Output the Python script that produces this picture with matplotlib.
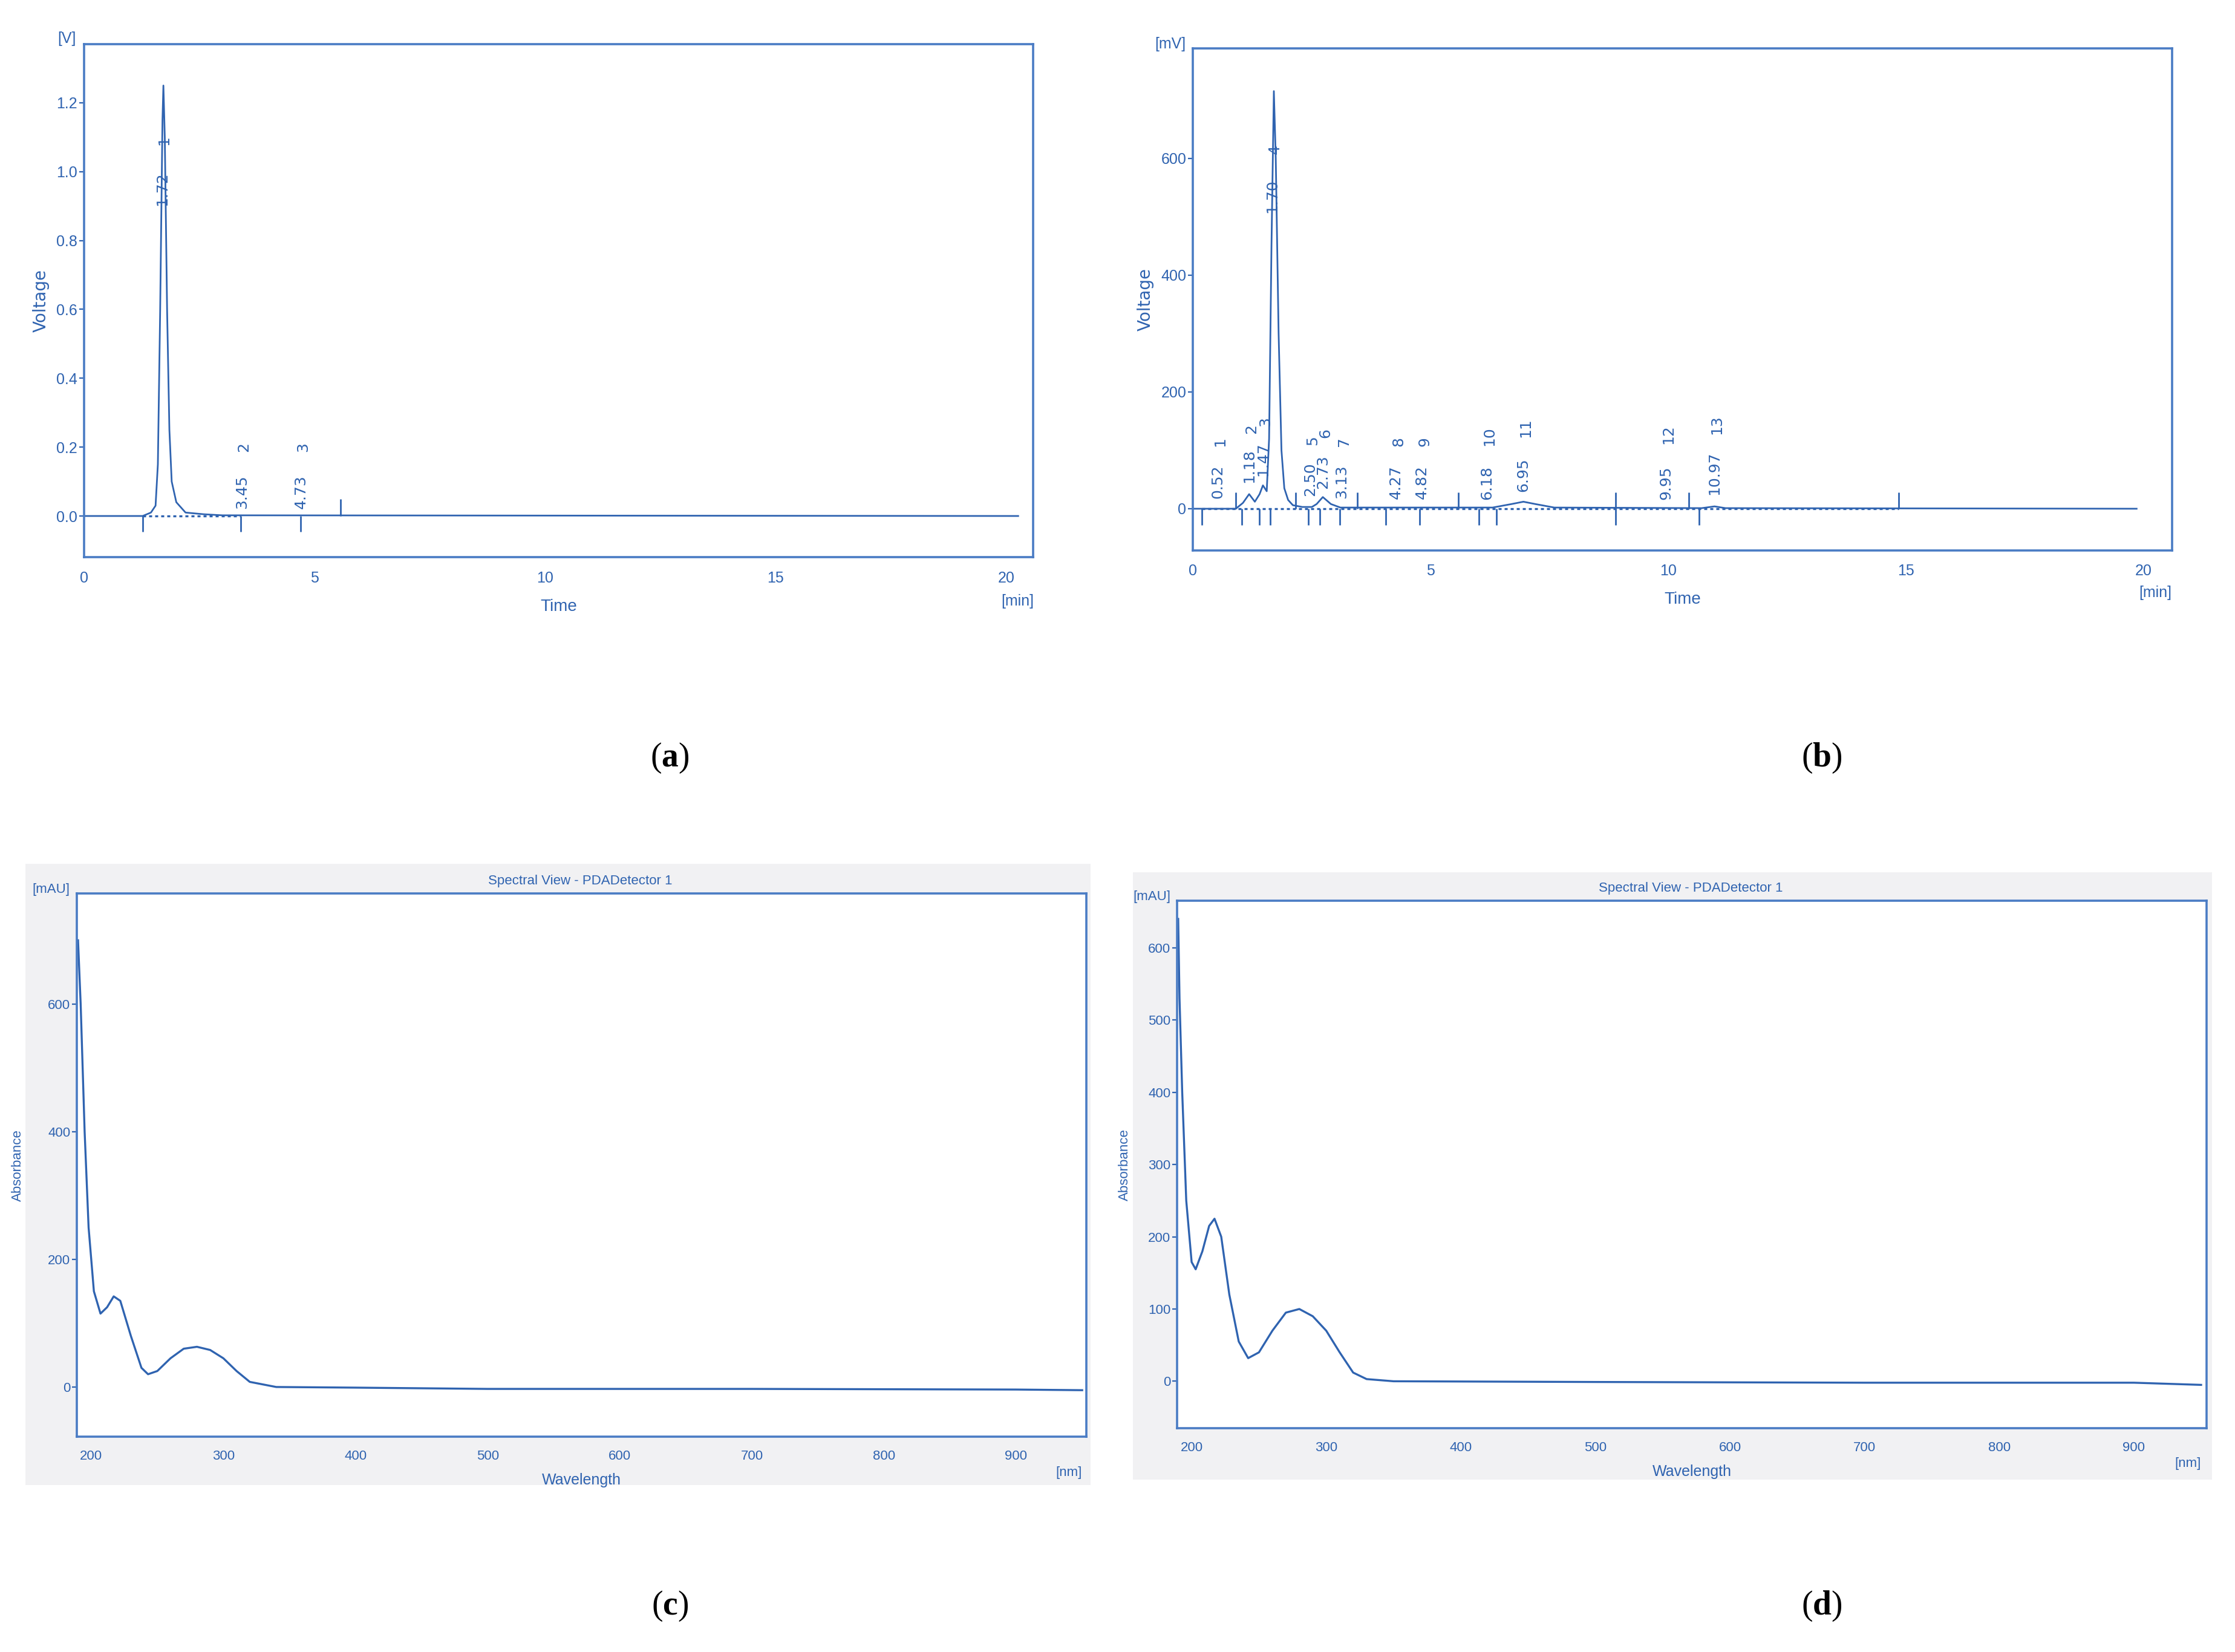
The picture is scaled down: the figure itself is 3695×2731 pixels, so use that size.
import matplotlib
matplotlib.use("Agg")
import matplotlib.pyplot as plt
from matplotlib.patches import Rectangle

plt.rcParams['font.family'] = ['Liberation Sans Narrow', 'Liberation Sans', 'DejaVu Sans']
plt.rcParams['mathtext.fontset'] = 'custom'
plt.rcParams['mathtext.bf'] = 'Liberation Serif:bold'
plt.rcParams['mathtext.rm'] = 'Liberation Serif'

BLUE = '#2f63b0'
LBLUE = '#4a7cc4'

# ---------------- data ----------------
# (a) chromatogram
a_time = [0.0, 1.27, 1.45, 1.55, 1.60, 1.65, 1.70, 1.72, 1.75, 1.80, 1.85, 1.90, 2.00, 2.20, 2.60, 3.00, 20.26]
a_volt = [0.0, 0.0, 0.01, 0.03, 0.15, 0.60, 1.15, 1.25, 1.10, 0.60, 0.25, 0.10, 0.04, 0.01, 0.005, 0.002, 0.0]
a_rt = [1.72, 3.45, 4.73]
a_num = ['1', '2', '3']
a_rt_y = [0.95, 0.07, 0.07]
a_num_y = [1.09, 0.20, 0.20]
a_down = [1.27, 3.40, 4.70]
a_up = [5.56]
a_dot = [1.27, 3.40]

# (b) chromatogram
b_time = [0.0, 0.18, 0.9, 1.05, 1.18, 1.30, 1.40, 1.47, 1.55, 1.60, 1.65, 1.70, 1.74, 1.80, 1.86, 1.92, 2.0, 2.1, 2.3, 2.5,
          2.6, 2.73, 2.9, 3.1, 6.3, 6.7, 6.95, 7.2, 7.6, 10.7, 10.97, 11.2, 19.85]
b_volt = [0.0, 0.0, 0.0, 10, 25, 12, 25, 40, 30, 120, 450, 715, 600, 300, 100, 35, 15, 6, 3, 3,
          8, 20, 8, 2, 2, 8, 12, 8, 2, 1, 4, 1, 0.0]
b_rt = ['0.52', '1.18', '1.47', '2.50', '2.73', '3.13', '4.27', '4.82', '6.18', '6.95', '9.95', '10.97']
b_num = ['1', '2', '3', '5', '6', '7', '8', '9', '10', '11', '12', '13']
b_rt_x = [0.52, 1.18, 1.47, 2.46, 2.73, 3.13, 4.27, 4.82, 6.18, 6.95, 9.95, 10.97]
b_rt_y = [46, 73, 85, 51, 63, 46, 46, 46, 44, 58, 44, 61]
b_num_y = [115, 137, 149, 117, 129, 115, 115, 115, 124, 139, 127, 144]
b_peak4 = ('1.70', '4')
b_down = [0.18, 1.03, 1.39, 1.62, 2.43, 2.67, 3.09, 4.05, 4.77, 6.02, 6.38, 8.89, 10.65]
b_up = [0.90, 2.16, 3.46, 5.58, 8.89, 10.43, 14.84]
b_dot = [0.18, 14.84]

# (c) spectrum
c_wl = [190, 191, 192, 195, 198, 202, 207, 212, 217, 222, 230, 238, 243, 250, 260, 270, 280, 290, 300, 310, 320, 340,
        400, 500, 700, 900, 950]
c_abs = [700, 650, 600, 400, 250, 150, 115, 125, 142, 135, 80, 30, 20, 25, 45, 60, 63, 58, 45, 25, 8, 0,
         -1, -3, -3, -4, -5]
# (d) spectrum
d_wl = [190, 191, 193, 196, 200, 203, 208, 213, 217, 222, 228, 235, 242, 250, 260, 270, 280, 290, 300, 310, 320, 330,
        350, 500, 700, 900, 950]
d_abs = [640, 530, 400, 250, 165, 155, 180, 215, 225, 200, 120, 55, 32, 40, 70, 95, 100, 90, 70, 40, 12, 3,
         0, -1, -2, -2, -5]

# ---------------- figure ----------------
W, H = 1568.0, 1159.0
fig = plt.figure(figsize=(18.475, 13.655), dpi=200)


def add_ax(x0, y0, x1, y1):
    return fig.add_axes([x0 / W, 1 - y1 / H, (x1 - x0) / W, (y1 - y0) / H], zorder=2)


def style(ax):
    ax.set_facecolor('white')
    for s in ax.spines.values():
        s.set_color(LBLUE)
        s.set_linewidth(1.3)
    ax.tick_params(axis='both', colors=BLUE, labelcolor=BLUE, labelsize=9, width=0.8)
    ax.tick_params(axis='x', length=0, pad=8)
    ax.tick_params(axis='y', length=3, pad=1)


TS = 9

# grey backgrounds for spectra panels
for (x0, y0, x1, y1) in [(18, 606, 765, 1042), (795, 612, 1552, 1038)]:
    fig.patches.append(Rectangle((x0 / W, 1 - y1 / H), (x1 - x0) / W, (y1 - y0) / H,
                                 transform=fig.transFigure, facecolor='#f1f1f3', edgecolor='none', zorder=-5))

# ---- (a) ----
ax = add_ax(59, 31, 725, 391)
style(ax)
ax.plot(a_time, a_volt, color=BLUE, lw=1.0)
ax.plot(a_dot, [0, 0], color=BLUE, lw=1.2, ls=(0, (1.5, 1.5)))
ax.vlines(a_down, -0.045, 0, color=BLUE, lw=1.0)
ax.vlines(a_up, 0, 0.05, color=BLUE, lw=1.0)
for x, t, n, ty, ny in zip(a_rt, a_rt, a_num, a_rt_y, a_num_y):
    ax.text(x - 0.02, ty, f'{t:.2f}', rotation=90, ha='center', va='center', color=BLUE, fontsize=TS, family='DejaVu Sans')
    ax.text(x + 0.02, ny, n, rotation=90, ha='center', va='center', color=BLUE, fontsize=TS, family='DejaVu Sans')
ax.set_xlim(0, 20.59)
ax.set_ylim(-0.12, 1.37)
ax.set_xticks([0, 5, 10, 15, 20])
ax.set_yticks([0.0, 0.2, 0.4, 0.6, 0.8, 1.0, 1.2])
ax.set_yticklabels(['0.0', '0.2', '0.4', '0.6', '0.8', '1.0', '1.2'])
ax.set_xlabel('Time', color=BLUE, fontsize=10, labelpad=8)
ax.set_ylabel('Voltage', color=BLUE, fontsize=10, family='DejaVu Sans', labelpad=4)
fig.text(47 / W, 1 - 27 / H, '[V]', color=BLUE, fontsize=9, ha='center', va='center')
fig.text(714 / W, 1 - 422 / H, '[min]', color=BLUE, fontsize=9, ha='center', va='center')

# ---- (b) ----
ax = add_ax(837, 34, 1524, 386)
style(ax)
ax.plot(b_time, b_volt, color=BLUE, lw=1.0)
ax.plot(b_dot, [0, 0], color=BLUE, lw=1.2, ls=(0, (1.5, 1.5)))
ax.vlines(b_down, -28, 0, color=BLUE, lw=1.0)
ax.vlines(b_up, 0, 28, color=BLUE, lw=1.0)
for x, t, n, ty, ny in zip(b_rt_x, b_rt, b_num, b_rt_y, b_num_y):
    ax.text(x, ty, t, rotation=90, ha='center', va='center', color=BLUE, fontsize=TS, family='DejaVu Sans')
    ax.text(x + 0.05, ny, n, rotation=90, ha='center', va='center', color=BLUE, fontsize=TS, family='DejaVu Sans')
ax.text(1.67, 535, b_peak4[0], rotation=90, ha='center', va='center', color=BLUE, fontsize=TS, family='DejaVu Sans')
ax.text(1.72, 615, b_peak4[1], rotation=90, ha='center', va='center', color=BLUE, fontsize=TS, family='DejaVu Sans')
ax.set_xlim(0, 20.6)
ax.set_ylim(-71, 788)
ax.set_xticks([0, 5, 10, 15, 20])
ax.set_yticks([0, 200, 400, 600])
ax.set_xlabel('Time', color=BLUE, fontsize=10, labelpad=8)
ax.set_ylabel('Voltage', color=BLUE, fontsize=10, family='DejaVu Sans', labelpad=4)
fig.text(821 / W, 1 - 31 / H, '[mV]', color=BLUE, fontsize=9, ha='center', va='center')
fig.text(1512 / W, 1 - 416 / H, '[min]', color=BLUE, fontsize=9, ha='center', va='center')

# ---- (c) ----
ax = add_ax(54, 627, 762, 1008)
style(ax)
ax.plot(c_wl, c_abs, color=BLUE, lw=1.2)
ax.set_xlim(189.2, 953)
ax.set_ylim(-78, 773)
ax.set_xticks([200, 300, 400, 500, 600, 700, 800, 900])
ax.set_yticks([0, 200, 400, 600])
ax.tick_params(labelsize=8)
ax.set_xlabel('Wavelength', color=BLUE, fontsize=9, labelpad=6)
ax.set_ylabel('Absorbance', color=BLUE, fontsize=8, labelpad=14)
fig.text(407 / W, 1 - 618 / H, 'Spectral View - PDADetector 1', color=BLUE, fontsize=8, ha='center', va='center')
fig.text(36 / W, 1 - 624 / H, '[mAU]', color=BLUE, fontsize=8, ha='center', va='center')
fig.text(750 / W, 1 - 1033 / H, '[nm]', color=BLUE, fontsize=8, ha='center', va='center')

# ---- (d) ----
ax = add_ax(826, 632, 1548, 1002)
style(ax)
ax.plot(d_wl, d_abs, color=BLUE, lw=1.2)
ax.set_xlim(189.4, 954)
ax.set_ylim(-65, 665)
ax.set_xticks([200, 300, 400, 500, 600, 700, 800, 900])
ax.set_yticks([0, 100, 200, 300, 400, 500, 600])
ax.tick_params(labelsize=8)
ax.set_xlabel('Wavelength', color=BLUE, fontsize=9, labelpad=6)
ax.set_ylabel('Absorbance', color=BLUE, fontsize=8, labelpad=10)
fig.text(1186 / W, 1 - 623 / H, 'Spectral View - PDADetector 1', color=BLUE, fontsize=8, ha='center', va='center')
fig.text(808 / W, 1 - 629 / H, '[mAU]', color=BLUE, fontsize=8, ha='center', va='center')
fig.text(1535 / W, 1 - 1027 / H, '[nm]', color=BLUE, fontsize=8, ha='center', va='center')

# captions
for x, y, l in [(470, 532, 'a'), (1278, 532, 'b'), (470, 1127, 'c'), (1278, 1127, 'd')]:
    fig.text(x / W, 1 - y / H, r'$\mathrm{(}\mathbf{' + l + r'}\mathrm{)}$', fontsize=20, ha='center', va='center', color='black')

fig.savefig('out.png', dpi=200, facecolor='white')
